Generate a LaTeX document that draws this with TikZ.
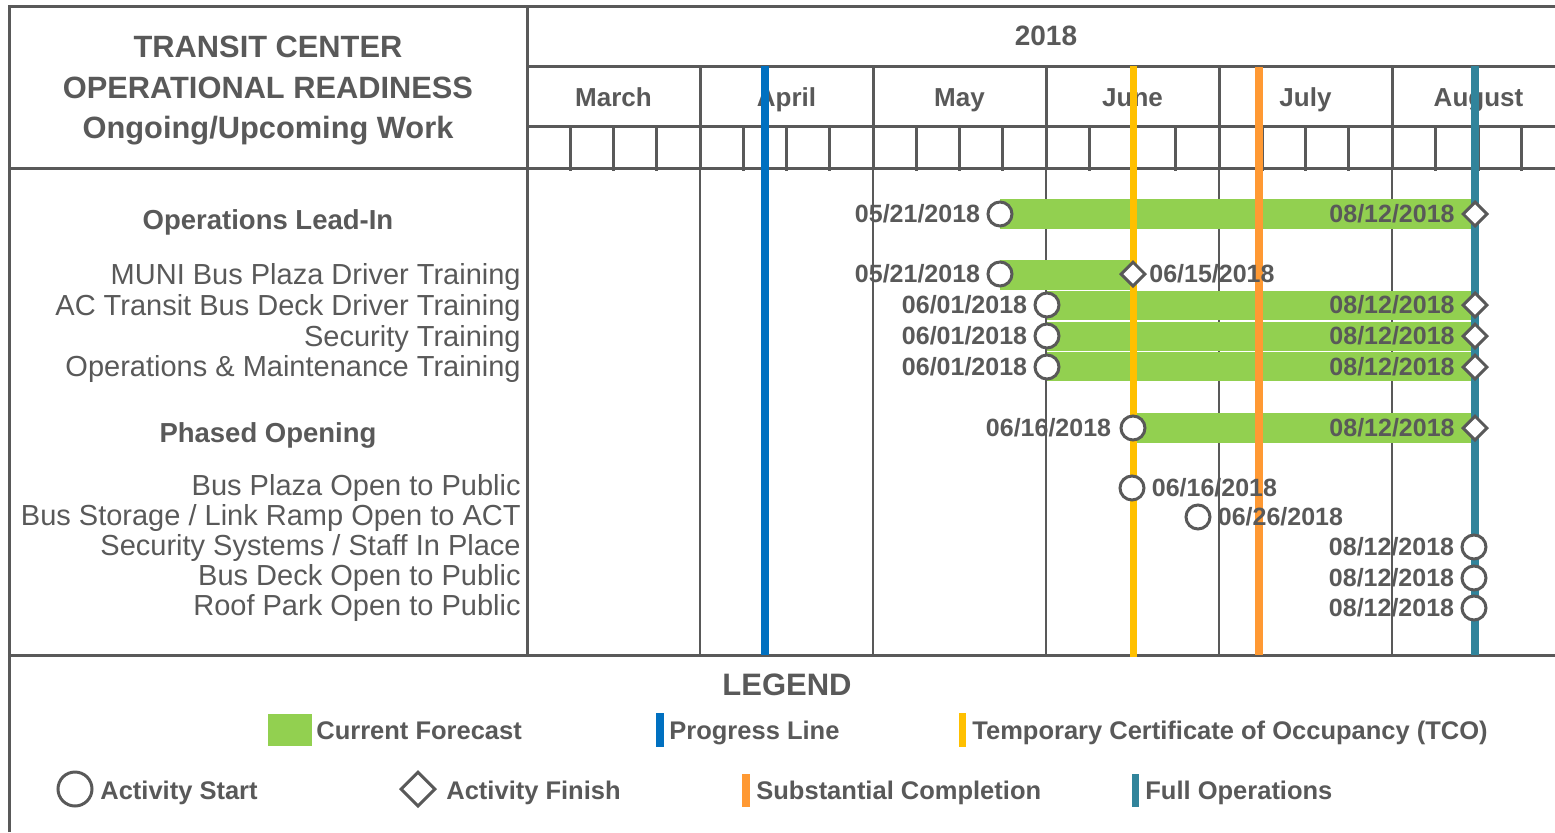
\documentclass[tikz,border=0pt]{standalone}
\usepackage{fontspec}
\setmainfont{Liberation Sans}
\usepackage{tikz}
\usetikzlibrary{shapes.geometric}
\definecolor{inkgray}{RGB}{89,89,89}
\definecolor{forecast}{RGB}{146,208,80}
\definecolor{progress}{RGB}{0,112,192}
\definecolor{tco}{RGB}{255,192,0}
\definecolor{substantial}{RGB}{255,153,51}
\definecolor{fullops}{RGB}{49,132,155}
\newcommand{\fsz}[1]{\fontsize{#1}{#1}\selectfont}
\tikzset{
  gridline/.style = {draw=inkgray, line width=1.5pt},
  monthline/.style = {draw=inkgray, line width=0.75pt},
  milestone/.style = {line width=3.7pt},
  legbar/.style = {line width=3.6pt},
  ganttbar/.style = {fill=forecast},
  actstart/.style = {circle, draw=inkgray, fill=white, line width=1.5pt, inner sep=0, minimum size=12pt},
  actfinish/.style = {diamond, draw=inkgray, fill=white, line width=1.5pt, inner sep=0, minimum width=12.5pt, minimum height=12.5pt},
  datelbl/.style = {text=inkgray, font=\fsz{12.5}\bfseries, inner sep=3pt},
  tasklbl/.style = {anchor=base east, text=inkgray, font=\fsz{14.5}, inner sep=0},
  grouplbl/.style = {anchor=base, text=inkgray, font=\fsz{13.75}\bfseries, inner sep=0},
  titlelbl/.style = {anchor=base, text=inkgray, font=\fsz{15.4}\bfseries, inner sep=0},
  monthlbl/.style = {anchor=base, text=inkgray, font=\fsz{13}\bfseries, inner sep=0},
  leglbl/.style = {anchor=base west, text=inkgray, font=\fsz{12.75}\bfseries, inner sep=0}
}

\begin{document}
\begin{tikzpicture}[x=0.5pt, y=-0.5pt]
\useasboundingbox (0,0) rectangle (1555,832);
% table frame and calendar grid
\draw[gridline] (9,832) -- (9,6) -- (1555,6);
\draw[gridline] (527,6) -- (527,655);
\draw[gridline] (527,66) -- (1555,66);
\draw[gridline] (527,126) -- (1555,126);
\draw[gridline] (9,168) -- (1555,168);
\draw[gridline] (9,655) -- (1555,655);
\foreach \mx in {700,873,1046,1219,1392} {
  \draw[gridline] (\mx,66) -- (\mx,168);
  \draw[monthline] (\mx,168) -- (\mx,655);
}
\foreach \mx in {527,700,873,1046,1219,1392}
  \foreach \wk in {1,2,3}
    \draw[gridline] ({\mx+43.25*\wk},126) -- ({\mx+43.25*\wk},171);

\node[titlelbl] (title1) at (268,57) {TRANSIT CENTER};
\node[titlelbl] (title2) at (268,98) {OPERATIONAL READINESS};
\node[titlelbl] (title3) at (268,138) {Ongoing/Upcoming Work};
\node[monthlbl, font=\fsz{14}\bfseries] (year) at (1046,45) {2018};
\foreach \mname [count=\i from 0] in {March,April,May,June,July,August}
  \node[monthlbl] (\mname) at ({613.5+173*\i},106) {\mname};

% forecast bars
\fill[ganttbar] (1000,199) rectangle (1475,229);
\fill[ganttbar] (1000,260) rectangle (1133,290);
\fill[ganttbar] (1047,291) rectangle (1475,320);
\fill[ganttbar] (1047,321.5) rectangle (1475,350.5);
\fill[ganttbar] (1047,352) rectangle (1475,381);
\fill[ganttbar] (1133,413) rectangle (1475,443);

% milestone lines
\draw[milestone, progress] (765,66) -- (765,655);
\draw[milestone, tco] (1133.5,66) -- (1133.5,657);
\draw[milestone, substantial] (1259,67) -- (1259,655);
\draw[milestone, fullops] (1475,66) -- (1475,655);

% activities
\node[actstart] (leadS) at (1000,214) {};
\node[actfinish] (leadF) at (1475,214) {};
\node[datelbl, anchor=east] (leadSd) at (leadS.west) {05/21/2018};
\node[datelbl, anchor=east] (leadFd) at (leadF.west) {08/12/2018};

\node[actstart] (muniS) at (1000,274) {};
\node[actfinish] (muniF) at (1133,274) {};
\node[datelbl, anchor=east] (muniSd) at (muniS.west) {05/21/2018};
\node[datelbl, anchor=west, inner sep=1pt] (muniFd) at (muniF.east) {06/15/2018};

\node[actstart] (acS) at (1047,305) {};
\node[actfinish] (acF) at (1475,305) {};
\node[datelbl, anchor=east] (acSd) at (acS.west) {06/01/2018};
\node[datelbl, anchor=east] (acFd) at (acF.west) {08/12/2018};

\node[actstart] (secS) at (1047,336) {};
\node[actfinish] (secF) at (1475,336) {};
\node[datelbl, anchor=east] (secSd) at (secS.west) {06/01/2018};
\node[datelbl, anchor=east] (secFd) at (secF.west) {08/12/2018};

\node[actstart] (omS) at (1047,367) {};
\node[actfinish] (omF) at (1475,367) {};
\node[datelbl, anchor=east] (omSd) at (omS.west) {06/01/2018};
\node[datelbl, anchor=east] (omFd) at (omF.west) {08/12/2018};

\node[actstart] (phaseS) at (1133,428) {};
\node[actfinish] (phaseF) at (1475,428) {};
\node[datelbl, anchor=east, inner sep=4pt] (phaseSd) at (phaseS.west) {06/16/2018};
\node[datelbl, anchor=east] (phaseFd) at (phaseF.west) {08/12/2018};

\node[actstart] (plazaS) at (1132,488) {};
\node[datelbl, anchor=west] (plazaSd) at (plazaS.east) {06/16/2018};
\node[actstart] (storeS) at (1198,517) {};
\node[datelbl, anchor=west] (storeSd) at (storeS.east) {06/26/2018};
\node[actstart] (secsysS) at (1474,547) {};
\node[datelbl, anchor=east] (secsysSd) at (secsysS.west) {08/12/2018};
\node[actstart] (deckS) at (1474,578) {};
\node[datelbl, anchor=east] (deckSd) at (deckS.west) {08/12/2018};
\node[actstart] (roofS) at (1474,608) {};
\node[datelbl, anchor=east] (roofSd) at (roofS.west) {08/12/2018};

% activity names
\node[grouplbl] (leadin) at (268,229) {Operations Lead-In};
\node[tasklbl] (muni) at (521,284) {MUNI Bus Plaza Driver Training};
\node[tasklbl] (actransit) at (521,315.5) {AC Transit Bus Deck Driver Training};
\node[tasklbl] (sectrain) at (521,346) {Security Training};
\node[tasklbl] (omtrain) at (521,376) {Operations \& Maintenance Training};
\node[grouplbl] (phased) at (268,442) {Phased Opening};
\node[tasklbl] (plaza) at (521,495) {Bus Plaza Open to Public};
\node[tasklbl] (storage) at (521,525) {Bus Storage / Link Ramp Open to ACT};
\node[tasklbl] (secsys) at (521,555) {Security Systems / Staff In Place};
\node[tasklbl] (deck) at (521,585) {Bus Deck Open to Public};
\node[tasklbl] (roof) at (521,615) {Roof Park Open to Public};

% legend
\node[titlelbl, font=\fsz{15.5}\bfseries] (legend) at (787,695) {LEGEND};
\fill[ganttbar] (268,714) rectangle (312,746);
\node[leglbl] (lgforecast) at (316,739) {Current Forecast};
\draw[legbar, progress] (660,713) -- (660,747);
\node[leglbl] (lgprogress) at (669,739) {Progress Line};
\draw[legbar, tco] (962.5,713) -- (962.5,747);
\node[leglbl] (lgtco) at (972,739) {Temporary Certificate of Occupancy (TCO)};
\node[actstart, minimum size=17pt] (lgstartmk) at (75,789) {};
\node[leglbl] (lgstart) at (100,799) {Activity Start};
\node[actfinish, minimum width=17.5pt, minimum height=17.5pt] (lgfinishmk) at (418,789) {};
\node[leglbl] (lgfinish) at (446,799) {Activity Finish};
\draw[legbar, substantial] (746,774) -- (746,807);
\node[leglbl] (lgsubst) at (756,799) {Substantial Completion};
\draw[legbar, fullops] (1135.5,774) -- (1135.5,807);
\node[leglbl] (lgfull) at (1145,799) {Full Operations};
\end{tikzpicture}
\end{document}
